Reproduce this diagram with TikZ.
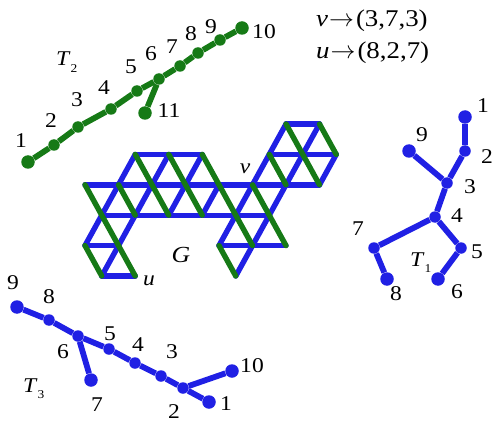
\documentclass[tikz,border=0pt]{standalone}
\usepackage{fontspec}
\setmainfont{Liberation Serif}[FakeStretch=1.12]
\definecolor{gblue}{RGB}{32,32,228}
\definecolor{ggreen}{RGB}{22,122,22}
\begin{document}
\begin{tikzpicture}[x=1pt,y=-1pt,
  bl/.style={gblue,line width=5.4pt,line cap=round},
  gr/.style={ggreen,line width=5.4pt,line cap=round},
  gedge/.style={ggreen,line width=5.8pt},
  bedge/.style={gblue,line width=5.8pt},
  gdot/.style={circle,fill=ggreen,inner sep=0pt,minimum size=11.5pt},
  bdot/.style={circle,fill=gblue,inner sep=0pt,minimum size=11.5pt},
  gbig/.style={gdot,minimum size=13.5pt},
  bbig/.style={bdot,minimum size=13.5pt},
  lab/.style={font=\fontsize{21}{21}\selectfont,inner sep=0pt},
  tlab/.style={font=\fontsize{24}{24}\selectfont,inner sep=0pt,anchor=west}]
\useasboundingbox (0,0) rectangle (492,422);

% lattice points
\foreach \i in {0,...,15}{\foreach \r in {0,...,5}{
  \coordinate (p\i-\r) at ({85+16.75*\i},{124+30.4*\r});}}

% blue horizontals
\draw[bl] (p12-0) -- (p14-0);
\draw[bl] (p3-1) -- (p7-1);
\draw[bl] (p11-1) -- (p15-1);
\draw[bl] (p0-2) -- (p14-2);
\draw[bl] (p1-3) -- (p11-3);
\draw[bl] (p0-4) -- (p2-4);
\draw[bl] (p8-4) -- (p12-4);
\draw[bl] (p1-5) -- (p3-5);
% blue / diagonals
\draw[bl] (p0-4) -- (p3-1);
\draw[bl] (p1-5) -- (p5-1);
\draw[bl] (p5-3) -- (p7-1);
\draw[bl] (p7-3) -- (p8-2);
\draw[bl] (p8-4) -- (p12-0);
\draw[bl] (p9-5) -- (p14-0);
\draw[bl] (p14-2) -- (p15-1);
% green \ diagonals
\draw[gr] (p0-4) -- (p1-5);
\draw[gr] (p0-2) -- (p3-5);
\draw[gr] (p2-2) -- (p3-3);
\draw[gr] (p3-1) -- (p5-3);
\draw[gr] (p5-1) -- (p7-3);
\draw[gr] (p8-4) -- (p9-5);
\draw[gr] (p7-1) -- (p10-4);
\draw[gr] (p10-2) -- (p12-4);
\draw[gr] (p11-1) -- (p12-2);
\draw[gr] (p12-0) -- (p14-2);
\draw[gr] (p14-0) -- (p15-1);

\node[lab,font=\fontsize{23}{23}\selectfont\itshape] (G) at (181,255) {G};
\node[lab,font=\fontsize{21}{21}\selectfont\itshape] (vl) at (245,169) {v};
\node[lab,font=\fontsize{21}{21}\selectfont\itshape] (ul) at (149,281) {u};

% top-right text
\node[tlab] (t1) at (316,21) {\textit{v}\hspace{1pt}$\rightarrow$\hspace{2pt}(3,7,3)};
\node[tlab] (t2) at (316,53) {\textit{u}\hspace{1pt}$\rightarrow$\hspace{2pt}(8,2,7)};

% T2 (green)
\node[gbig] (a1) at (28,162) {};
\node[gdot] (a2) at (54,145) {};
\node[gdot] (a3) at (78,127) {};
\node[gdot] (a4) at (111,109) {};
\node[gdot] (a5) at (137,91) {};
\node[gdot] (a6) at (159,79) {};
\node[gdot] (a7) at (180,66) {};
\node[gdot] (a8) at (198,53) {};
\node[gdot] (a9) at (220,40) {};
\node[gbig] (a10) at (242,28) {};
\node[gbig] (a11) at (145,113) {};
\draw[gedge] (a1) -- (a2) -- (a3) -- (a4) -- (a5) -- (a6) -- (a7) -- (a8) -- (a9) -- (a10);
\draw[gedge] (a6) -- (a11);
\node[lab] (la1) at (21,141) {1};
\node[lab] (la2) at (51,121) {2};
\node[lab] (la3) at (77,100) {3};
\node[lab] (la4) at (104,88) {4};
\node[lab] (la5) at (131,67) {5};
\node[lab] (la6) at (151,54) {6};
\node[lab] (la7) at (172,47) {7};
\node[lab] (la8) at (191,34) {8};
\node[lab] (la9) at (211,27) {9};
\node[lab] (la10) at (264,32) {10};
\node[lab] (la11) at (169,111) {11};
\node[lab,anchor=base west] (lT2) at (56,66) {\textit{T}\raisebox{-0.3em}{\fontsize{12}{12}\selectfont 2}};

% T1 (blue)
\node[bbig] (b1) at (465,117) {};
\node[bdot] (b2) at (465,151) {};
\node[bdot] (b3) at (447,183) {};
\node[bbig] (b9) at (409,151) {};
\node[bdot] (b4) at (435,217) {};
\node[bdot] (b7) at (374,248) {};
\node[bbig] (b8) at (387,279) {};
\node[bdot] (b5) at (461,248) {};
\node[bbig] (b6) at (438,279) {};
\draw[bedge] (b1) -- (b2) -- (b3) -- (b4) -- (b7) -- (b8);
\draw[bedge] (b3) -- (b9);
\draw[bedge] (b4) -- (b5) -- (b6);
\node[lab] (lb1) at (483,106) {1};
\node[lab] (lb2) at (487,157) {2};
\node[lab] (lb3) at (470,187) {3};
\node[lab] (lb4) at (457,216) {4};
\node[lab] (lb5) at (477,252) {5};
\node[lab] (lb6) at (457,292) {6};
\node[lab] (lb7) at (358,229) {7};
\node[lab] (lb8) at (396,294) {8};
\node[lab] (lb9) at (422,135) {9};
\node[lab,anchor=base west] (lT1) at (410,266) {\textit{T}\raisebox{-0.3em}{\fontsize{12}{12}\selectfont 1}};

% T3 (blue)
\node[bbig] (c9) at (17,307) {};
\node[bdot] (c8) at (49,320) {};
\node[bdot] (c6) at (78,336) {};
\node[bdot] (c5) at (109,349) {};
\node[bdot] (c4) at (135,363) {};
\node[bdot] (c3) at (161,376) {};
\node[bdot] (c2) at (183,388) {};
\node[bbig] (c1) at (209,402) {};
\node[bbig] (c10) at (232,371) {};
\node[bbig] (c7) at (91,380) {};
\draw[bedge] (c9) -- (c8) -- (c6) -- (c5) -- (c4) -- (c3) -- (c2) -- (c1);
\draw[bedge] (c6) -- (c7);
\draw[bedge] (c2) -- (c10);
\node[lab] (lc9) at (13,283) {9};
\node[lab] (lc8) at (49,297) {8};
\node[lab] (lc6) at (63,352) {6};
\node[lab] (lc5) at (110,334) {5};
\node[lab] (lc4) at (138,345) {4};
\node[lab] (lc3) at (172,352) {3};
\node[lab] (lc10) at (252,366) {10};
\node[lab] (lc1) at (226,404) {1};
\node[lab] (lc2) at (174,412) {2};
\node[lab] (lc7) at (97,405) {7};
\node[lab,anchor=base west] (lT3) at (23,392) {\textit{T}\raisebox{-0.3em}{\fontsize{12}{12}\selectfont 3}};
\end{tikzpicture}
\end{document}
